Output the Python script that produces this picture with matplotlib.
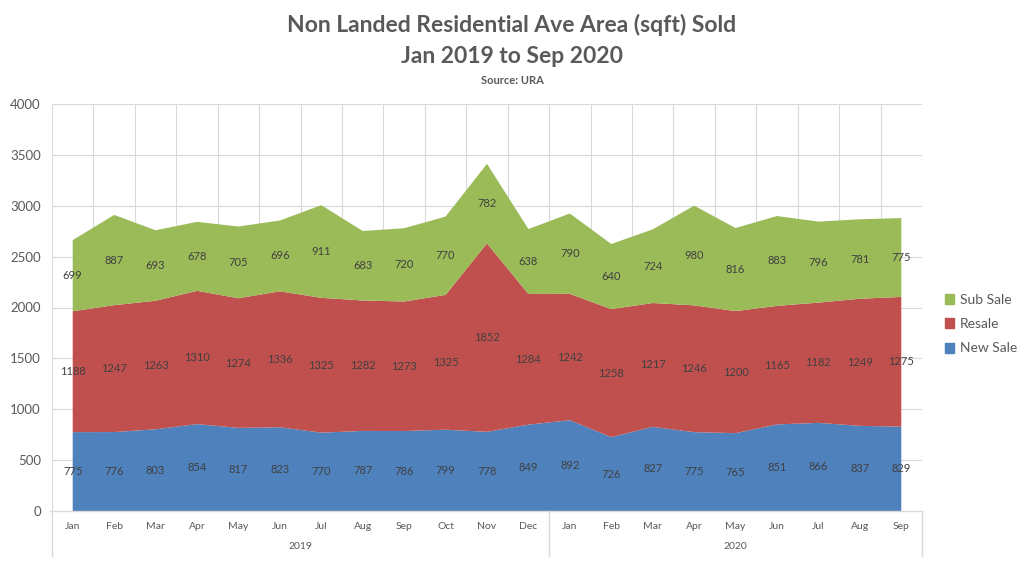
import matplotlib
matplotlib.use("Agg")
import matplotlib.pyplot as plt
import numpy as np
from matplotlib.patches import Patch
from matplotlib.lines import Line2D

months = ["Jan","Feb","Mar","Apr","May","Jun","Jul","Aug","Sep","Oct","Nov","Dec",
          "Jan","Feb","Mar","Apr","May","Jun","Jul","Aug","Sep"]
years = ["2019", "2020"]
year_counts = [12, 9]
new_sale = [775,776,803,854,817,823,770,787,786,799,778,849,892,726,827,775,765,851,866,837,829]
resale = [1188,1247,1263,1310,1274,1336,1325,1282,1273,1325,1852,1284,1242,1258,1217,1246,1200,1165,1182,1249,1275]
sub_sale = [699,887,693,678,705,696,911,683,720,770,782,638,790,640,724,980,816,883,796,781,775]

series_names = ["New Sale", "Resale", "Sub Sale"]
colors = ["#4F81BD", "#C0504D", "#9BBB59"]

plt.rcParams['font.family'] = ['Lato', 'DejaVu Sans']

fig = plt.figure(figsize=(10.24, 5.61), dpi=100)
L, R, B, T = 52/1024, 922/1024, (561-511)/561, (561-104)/561
ax = fig.add_axes([L, B, R-L, T-B])

x = np.arange(len(months))
data = [np.array(new_sale), np.array(resale), np.array(sub_sale)]
ax.stackplot(x, *data, colors=colors, edgecolor="none", zorder=2)

base = np.zeros(len(x))
for d in data:
    for xi, b, v in zip(x, base, d):
        ax.text(xi, b + v/2, str(v), ha="center", va="center", fontsize=8, color="#404040", zorder=3)
    base = base + d

ax.set_xlim(-0.5, len(x)-0.5)
ax.set_ylim(0, 4000)
ax.set_yticks(np.arange(0, 4001, 500))
ax.set_yticklabels([str(v) for v in range(0, 4001, 500)], fontsize=9.5, color="#595959")
ax.tick_params(axis="y", length=0, pad=8)
ax.set_xticks([])
for yv in range(500, 4001, 500):
    ax.axhline(yv, color="#D9D9D9", lw=0.8, zorder=1)
for k in range(len(x)+1):
    ax.axvline(k-0.5, color="#D9D9D9", lw=0.8, zorder=1)
for s in ax.spines.values():
    s.set_visible(False)

# category axis
ax.plot([-0.55, len(x)-0.5], [0, 0], color="#D9D9D9", lw=1, clip_on=False, zorder=4)
trans = ax.get_xaxis_transform()
for xi, m in zip(x, months):
    ax.text(xi, -0.037, m, ha="center", va="center", fontsize=7.5, color="#595959", transform=trans)
start = 0
bounds = [0]
for yname, cnt in zip(years, year_counts):
    ax.text(start + cnt/2 - 0.5, -0.088, yname, ha="center", va="center", fontsize=7.5, color="#595959", transform=trans)
    start += cnt
    bounds.append(start)
for bnd in bounds:
    ax.add_line(Line2D([bnd-0.5, bnd-0.5], [0, -0.11], transform=trans, color="#D9D9D9", lw=1, clip_on=False))

fig.text(0.5, 0.955, "Non Landed Residential Ave Area (sqft) Sold", ha="center", va="center",
         fontsize=16.5, fontweight="bold", color="#595959")
fig.text(0.5, 0.900, "Jan 2019 to Sep 2020", ha="center", va="center",
         fontsize=16.5, fontweight="bold", color="#595959")
fig.text(0.5, 0.857, "Source: URA", ha="center", va="center",
         fontsize=8, fontweight="bold", color="#595959")

handles = [Patch(color=colors[i], label=series_names[i]) for i in [2, 1, 0]]
fig.legend(handles=handles, loc="center left", bbox_to_anchor=(932/1024, 1-324/561),
           frameon=False, fontsize=10, handlelength=0.7, handleheight=0.7,
           handletextpad=0.4, labelspacing=0.9, labelcolor="#595959")

fig.savefig("out.png", dpi=100)
